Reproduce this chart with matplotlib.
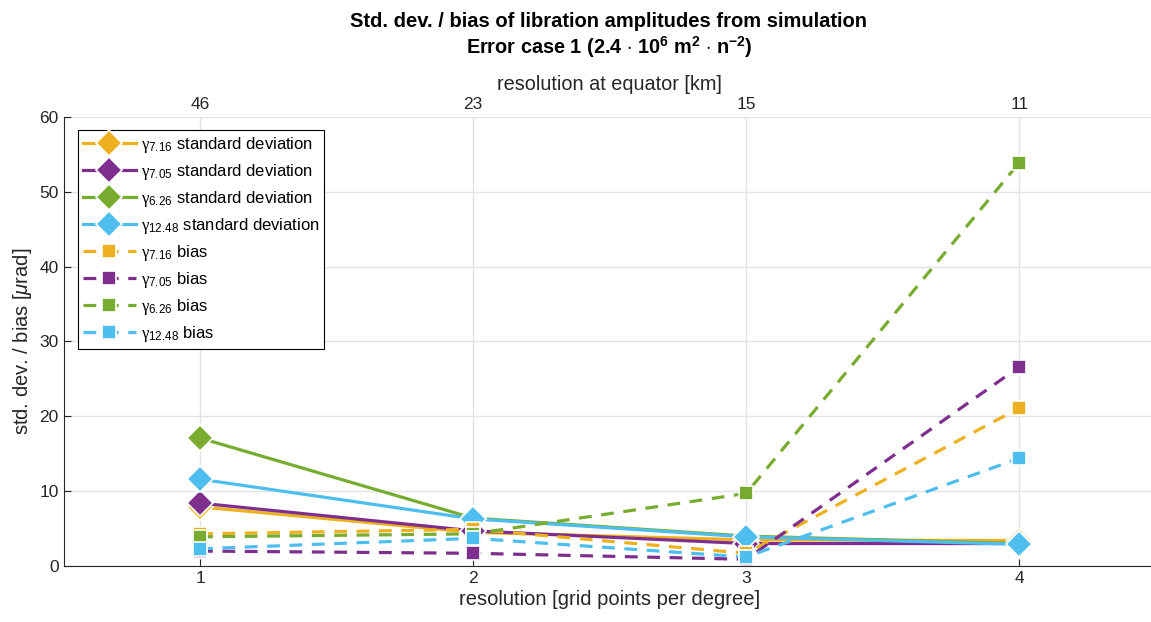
import numpy as np
import matplotlib
matplotlib.use('Agg')
import matplotlib.pyplot as plt

plt.rcParams['font.family'] = ['Liberation Sans', 'DejaVu Sans']
plt.rcParams['mathtext.fontset'] = 'custom'
plt.rcParams['mathtext.rm'] = 'Liberation Sans'
plt.rcParams['mathtext.it'] = 'Liberation Sans:italic'
plt.rcParams['mathtext.bf'] = 'Liberation Sans:bold'
plt.rcParams['mathtext.sf'] = 'Liberation Serif'

# data
res_grid = [1, 2, 3, 4]
res_km = ['46', '23', '15', '11']
names = ['7.16', '7.05', '6.26', '12.48']
colors = ['#EDB120', '#7E2F8E', '#77AC30', '#4DBEEE']

std_716 = [7.9, 4.5, 3.5, 3.4]
std_705 = [8.4, 4.7, 3.0, 3.0]
std_626 = [17.1, 6.4, 4.0, 3.0]
std_1248 = [11.6, 6.3, 3.9, 2.9]

bias_716 = [4.3, 4.9, 1.7, 21.1]
bias_705 = [2.0, 1.7, 0.9, 26.6]
bias_626 = [3.9, 4.3, 9.7, 53.9]
bias_1248 = [2.3, 3.7, 1.2, 14.4]

stds = [std_716, std_705, std_626, std_1248]
biases = [bias_716, bias_705, bias_626, bias_1248]

fig = plt.figure(figsize=(11.51, 6.22), dpi=100)
ax = fig.add_axes([0.0552, 0.090, 0.949, 0.722])
xc = 609 / 1151

tc = '#262626'
for i in range(4):
    ax.plot(res_grid, stds[i], '-', color=colors[i], lw=2.3, marker='D', ms=13,
            mec='white', mew=1.2,
            label=r'$\mathsf{\gamma}_{' + names[i] + r'}$ standard deviation')
for i in range(4):
    ax.plot(res_grid, biases[i], '--', color=colors[i], lw=2.3, marker='s', ms=10,
            mec='white', mew=1.2, dashes=(4, 3),
            label=r'$\mathsf{\gamma}_{' + names[i] + r'}$ bias')

ax.set_xlim(0.5, 4.5)
ax.set_ylim(0, 60)
ax.set_xticks(res_grid)
ax.set_yticks(np.arange(0, 61, 10))
ax.grid(True, color='#e3e3e3', lw=1)
ax.set_axisbelow(True)
ax.tick_params(direction='in', colors=tc, labelsize=12.5, length=5, width=0.8)
for s in ['left', 'bottom']:
    ax.spines[s].set_color(tc)
for s in ['top', 'right']:
    ax.spines[s].set_visible(False)
ax.set_xlabel('resolution [grid points per degree]', fontsize=14.5, color=tc, labelpad=3)
ax.set_ylabel(r'std. dev. / bias [$\mu$rad]', fontsize=14.5, color=tc)

top = ax.secondary_xaxis('top')
top.set_xticks(res_grid)
top.set_xticklabels(res_km)
top.tick_params(direction='in', colors=tc, labelsize=12.5, length=0)
top.spines['top'].set_visible(False)
top.set_xlabel('resolution at equator [km]', fontsize=14.3, color=tc, labelpad=5)

fig.text(xc, 0.966, 'Std. dev. / bias of libration amplitudes from simulation',
         ha='center', va='center', fontsize=14.5, fontweight='bold')
fig.text(xc, 0.925, r'Error case 1 (2.4 $\cdot$ $\mathbf{10^6}$ $\mathbf{m^2}$ $\cdot$ $\mathbf{n^{-2}}$)',
         ha='center', va='center', fontsize=14.3, fontweight='bold')

leg = ax.legend(loc='upper left', bbox_to_anchor=(0.0128, 0.971), fontsize=12,
                handlelength=3.2, fancybox=False, framealpha=1, edgecolor='black',
                borderpad=0.3, labelspacing=0.42, handletextpad=0.3, borderaxespad=0)
leg.get_frame().set_linewidth(0.8)

fig.savefig('out.png', dpi=100)
